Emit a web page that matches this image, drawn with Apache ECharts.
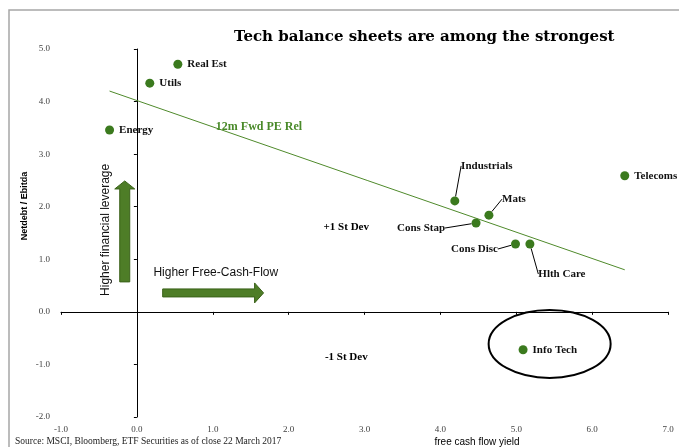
<!DOCTYPE html>
<html>
<head>
<meta charset="utf-8">
<script src="https://cdn.jsdelivr.net/npm/echarts@6/dist/echarts.min.js"></script>
<style>
  html, body { margin: 0; padding: 0; background: #fff; }
  #chart { width: 679px; height: 447px; }
</style>
</head>
<body>
<div id="chart"></div>
<script>
// sectors: free cash flow yield vs netdebt/ebitda
var sectors = ['Real Est', 'Utils', 'Energy', 'Industrials', 'Mats', 'Telecoms', 'Cons Stap', 'Cons Disc', 'Hlth Care', 'Info Tech'];
var fcfYield = [0.54, 0.17, -0.36, 4.19, 4.64, 6.43, 4.47, 4.99, 5.18, 5.09];
var netDebtEbitda = [4.71, 4.35, 3.46, 2.11, 1.84, 2.59, 1.69, 1.29, 1.29, -0.72];

// 12m Fwd PE Rel trend line
var trendX = [-0.36, 6.43];
var trendY = [4.20, 0.80];

// text notes placed on the plot (data coords, text centre)
var noteText = ['12m Fwd PE Rel', '+1 St Dev', '-1 St Dev', 'Higher Free-Cash-Flow'];
var noteX = [1.61, 2.76, 2.76, 1.04];
var noteY = [3.52, 1.62, -0.86, 0.74];

var green = '#3b7a1e';
var serif = '"Liberation Serif", "DejaVu Serif", serif';
var sans = '"Liberation Sans", Arial, sans-serif';

// where the moved labels sit, relative to their dot (px)
var labelShift = {
  'Industrials': [32, -35],
  'Mats': [25, -16],
  'Cons Stap': [-55, 5],
  'Cons Disc': [-41, 5],
  'Hlth Care': [32, 30]
};

var points = sectors.map(function (name, i) {
  var item = { name: name, value: [fcfYield[i], netDebtEbitda[i]] };
  if (labelShift[name]) {
    item.labelLine = { show: true, lineStyle: { color: '#000', width: 1 } };
  }
  return item;
});

var notes = noteText.map(function (t, i) {
  var lab = { show: true, position: 'inside', formatter: t,
    fontFamily: serif, fontWeight: 'bold', fontSize: 11, color: '#000' };
  if (i === 0) { lab.color = '#4a8a2a'; lab.fontSize = 12; }
  if (i === 3) { lab.fontFamily = sans; lab.fontWeight = 'normal'; lab.fontSize = 12; lab.color = '#111'; }
  return { value: [noteX[i], noteY[i]], label: lab };
});

var myChart = echarts.init(document.getElementById('chart'));

var option = {
  animation: false,
  title: {
    text: 'Tech balance sheets are among the strongest',
    left: 229, top: 25,
    textStyle: { fontFamily: '"DejaVu Serif", serif', fontWeight: 'bold', fontSize: 15, color: '#000' }
  },
  grid: { left: 61, right: 11, top: 49, bottom: 30 },
  xAxis: [{
    type: 'value', min: -1, max: 7, interval: 1,
    axisLine: { show: false, onZero: false }, axisTick: { show: false }, splitLine: { show: false },
    axisLabel: { margin: 8, fontFamily: serif, fontSize: 9, color: '#404040',
      formatter: function (v) { return v.toFixed(1); } }
  }, {
    type: 'value', min: -1, max: 7, interval: 1, position: 'bottom',
    axisLine: { show: true, onZero: true, lineStyle: { color: '#000', width: 1 } },
    axisTick: { show: true, length: 3, lineStyle: { color: '#000' } },
    axisLabel: { show: false }, splitLine: { show: false }
  }],
  yAxis: [{
    type: 'value', min: -2, max: 5, interval: 1,
    axisLine: { show: false, onZero: false }, axisTick: { show: false }, splitLine: { show: false },
    axisLabel: { margin: 11, fontFamily: serif, fontSize: 9, color: '#404040',
      formatter: function (v) { return v.toFixed(1); } }
  }, {
    type: 'value', min: -2, max: 5, interval: 1, position: 'left',
    axisLine: { show: true, onZero: true, lineStyle: { color: '#000', width: 1 } },
    axisTick: { show: true, length: 3, lineStyle: { color: '#000' } },
    axisLabel: { show: false }, splitLine: { show: false }
  }],
  series: [{
    type: 'line',
    data: trendX.map(function (x, i) { return [x, trendY[i]]; }),
    symbol: 'none',
    lineStyle: { color: '#4f8a2b', width: 1 },
    z: 1
  }, {
    type: 'scatter',
    data: points,
    symbolSize: 9,
    itemStyle: { color: green, opacity: 1 },
    label: {
      show: true, position: 'right', distance: 5,
      formatter: '{b}', fontFamily: serif, fontWeight: 'bold', fontSize: 11, color: '#111'
    },
    labelLayout: function (p) {
      var s = labelShift[sectors[p.dataIndex]];
      if (!s) return {};
      return {
        x: p.rect.x + p.rect.width / 2 + s[0],
        y: p.rect.y + p.rect.height / 2 + s[1],
        align: 'center', verticalAlign: 'middle'
      };
    },
    z: 3
  }, {
    type: 'scatter',
    data: notes,
    symbolSize: 0,
    itemStyle: { opacity: 1 },
    silent: true,
    z: 2
  }]
};
myChart.setOption(option);

// annotations tied to data coords: arrows, ellipse, frame, texts
function px(x, y) { return myChart.convertToPixel({ xAxisIndex: 0, yAxisIndex: 0 }, [x, y]); }

var hA = px(0.34, 0.36), hB = px(1.67, 0.36);
var vA = px(-0.16, 0.57), vB = px(-0.16, 2.49);
var ell = px(5.44, -0.61);
var lev = px(-0.41, 1.56);

var arrowFill = '#4e7d27', arrowEdge = '#3a6119';

myChart.setOption({
  graphic: [
    { type: 'rect', shape: { x: 9, y: 10, width: 800, height: 600 },
      style: { fill: 'none', stroke: '#a6a6a6', lineWidth: 1.5 }, silent: true },
    { type: 'polygon', shape: { points: [
        [hA[0], hA[1] - 4], [hB[0] - 9, hA[1] - 4], [hB[0] - 9, hA[1] - 10],
        [hB[0], hA[1]], [hB[0] - 9, hA[1] + 10], [hB[0] - 9, hA[1] + 4], [hA[0], hA[1] + 4]] },
      style: { fill: arrowFill, stroke: arrowEdge, lineWidth: 1 } },
    { type: 'polygon', shape: { points: [
        [vA[0] - 5, vA[1]], [vA[0] - 5, vB[1] + 8], [vA[0] - 10, vB[1] + 8],
        [vA[0], vB[1]], [vA[0] + 10, vB[1] + 8], [vA[0] + 5, vB[1] + 8], [vA[0] + 5, vA[1]]] },
      style: { fill: arrowFill, stroke: arrowEdge, lineWidth: 1 } },
    { type: 'ellipse', shape: { cx: ell[0], cy: ell[1], rx: 61, ry: 34 },
      style: { fill: 'none', stroke: '#000', lineWidth: 2 } },
    { type: 'text', x: lev[0], y: lev[1], rotation: Math.PI / 2,
      style: { text: 'Higher financial leverage', fontFamily: sans, fontSize: 12, fill: '#111',
        align: 'center', verticalAlign: 'middle' } },
    { type: 'text', x: 25, y: 206, rotation: Math.PI / 2,
      style: { text: 'Netdebt / Ebitda', fontFamily: sans, fontWeight: 'bold', fontSize: 9, fill: '#000',
        align: 'center', verticalAlign: 'middle' } },
    { type: 'text', x: 477, y: 442,
      style: { text: 'free cash flow yield', fontFamily: sans, fontSize: 10, fill: '#000',
        align: 'center', verticalAlign: 'middle' } },
    { type: 'text', x: 15, y: 441,
      style: { text: 'Source: MSCI, Bloomberg, ETF Securities as of close 22 March 2017', fontFamily: serif,
        fontSize: 9.5, fill: '#222', align: 'left', verticalAlign: 'middle' } }
  ]
});
</script>
</body>
</html>
